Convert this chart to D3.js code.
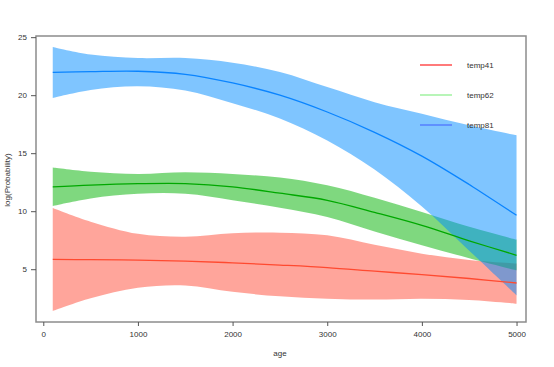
<!DOCTYPE html>
<html>
<head>
<meta charset="utf-8">
<script src="https://cdn.jsdelivr.net/npm/d3@7"></script>
<style>
  body { margin: 0; background: #fff; }
  svg text { font-family: "Liberation Sans", Arial, sans-serif; fill: #333; }
</style>
</head>
<body>
<div id="chart"></div>
<script>
// ---- data ----
const ages = [100, 500, 1000, 1500, 2000, 2500, 3000, 3500, 4000, 4500, 5000];

const temp41Fit   = [5.85, 5.82, 5.78, 5.70, 5.55, 5.36, 5.14, 4.83, 4.53, 4.20, 3.81];
const temp41Upper = [10.28, 9.10, 8.05, 7.80, 8.10, 8.15, 7.92, 7.10, 6.34, 5.80, 5.50];
const temp41Lower = [1.40, 2.50, 3.40, 3.60, 3.05, 2.66, 2.46, 2.38, 2.46, 2.35, 2.03];

const temp62Fit   = [12.09, 12.25, 12.37, 12.38, 12.10, 11.55, 10.94, 9.90, 8.78, 7.45, 6.20];
const temp62Upper = [13.76, 13.40, 13.20, 13.35, 13.20, 12.90, 12.23, 11.15, 9.93, 8.65, 7.55];
const temp62Lower = [10.45, 11.10, 11.50, 11.50, 10.95, 10.30, 9.50, 8.25, 7.06, 5.95, 4.90];

const temp81Fit   = [21.97, 22.03, 22.06, 21.80, 21.05, 20.00, 18.55, 16.80, 14.75, 12.30, 9.65];
const temp81Upper = [24.16, 23.50, 23.20, 23.20, 22.80, 22.00, 20.70, 19.40, 18.40, 17.40, 16.54];
const temp81Lower = [19.76, 20.45, 20.77, 20.40, 19.30, 18.00, 16.10, 13.60, 10.40, 6.60, 2.75];

const seriesNames = ["temp41", "temp62", "temp81"];
const xTicks = [0, 1000, 2000, 3000, 4000, 5000];
const yTicks = [5, 10, 15, 20, 25];

// ---- layout ----
const width = 554, height = 367;
const box = { left: 36, right: 526, top: 36, bottom: 322 };

const svg = d3.select("#chart").append("svg")
  .attr("width", width)
  .attr("height", height);

const x = d3.scaleLinear().domain([-77, 5100]).range([box.left, box.right]);
const y = d3.scaleLinear().domain([0.45, 25.1]).range([box.bottom, box.top]);

const series = [
  { name: seriesNames[0], fit: temp41Fit, lo: temp41Lower, hi: temp41Upper,
    band: "rgba(255, 75, 55, 0.5)", line: "#ff4a30", key: "#ff2020" },
  { name: seriesNames[1], fit: temp62Fit, lo: temp62Lower, hi: temp62Upper,
    band: "rgba(0, 178, 0, 0.5)", line: "#00a800", key: "#88ee88" },
  { name: seriesNames[2], fit: temp81Fit, lo: temp81Lower, hi: temp81Upper,
    band: "rgba(0, 140, 255, 0.5)", line: "#0a84ff", key: "#4a6cff" }
];

const curve = d3.curveCatmullRom.alpha(0.5);

const area = d3.area()
  .x((d, i) => x(ages[i]))
  .y0(d => y(d.lo))
  .y1(d => y(d.hi))
  .curve(curve);

const line = d3.line()
  .x((d, i) => x(ages[i]))
  .y(d => y(d))
  .curve(curve);

// bands first, lines on top
series.forEach(s => {
  svg.append("path")
    .datum(ages.map((a, i) => ({ lo: s.lo[i], hi: s.hi[i] })))
    .attr("d", area)
    .attr("fill", s.band);
});

series.forEach(s => {
  svg.append("path")
    .datum(s.fit)
    .attr("d", line)
    .attr("fill", "none")
    .attr("stroke", s.line)
    .attr("stroke-width", 1.3);
});

// plot frame
svg.append("rect")
  .attr("x", box.left).attr("y", box.top)
  .attr("width", box.right - box.left)
  .attr("height", box.bottom - box.top)
  .attr("fill", "none")
  .attr("stroke", "#8c8c8c")
  .attr("stroke-width", 1.5);

// x axis
const xAxis = svg.append("g")
  .attr("transform", `translate(0,${box.bottom})`)
  .call(d3.axisBottom(x).tickValues(xTicks).tickSize(4).tickPadding(5).tickFormat(d3.format("d")));
xAxis.select(".domain").remove();
xAxis.selectAll("line").attr("stroke", "#555");
xAxis.selectAll("text").style("font-size", "8px").style("fill", "#333");

// y axis
const yAxis = svg.append("g")
  .attr("transform", `translate(${box.left},0)`)
  .call(d3.axisLeft(y).tickValues(yTicks).tickSize(5).tickPadding(4));
yAxis.select(".domain").remove();
yAxis.selectAll("line").attr("stroke", "#555");
yAxis.selectAll("text").style("font-size", "8px").style("fill", "#333");

// axis titles
svg.append("text")
  .attr("x", 280).attr("y", 356)
  .attr("text-anchor", "middle")
  .style("font-size", "8px")
  .text("age");

svg.append("text")
  .attr("transform", "translate(10,180) rotate(-90)")
  .attr("text-anchor", "middle")
  .style("font-size", "8px")
  .text("log(Probability)");

// legend
const legend = svg.append("g");
series.forEach((s, i) => {
  const ly = 65 + i * 30;
  legend.append("line")
    .attr("x1", 420).attr("x2", 452)
    .attr("y1", ly).attr("y2", ly)
    .attr("stroke", s.key)
    .attr("stroke-width", 1.2);
  legend.append("text")
    .attr("x", 467).attr("y", ly + 3)
    .style("font-size", "8px")
    .text(s.name);
});
</script>
</body>
</html>
